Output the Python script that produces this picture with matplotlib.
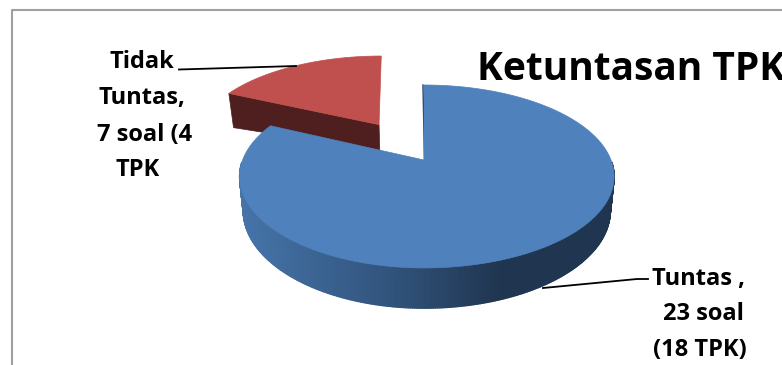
import numpy as np
import matplotlib
matplotlib.use('Agg')
import matplotlib.pyplot as plt
from matplotlib.collections import PolyCollection
from matplotlib.colors import LinearSegmentedColormap

title = 'Ketuntasan TPK'
tpk = [18, 4]
soal = [23, 7]
tuntas_lines = ['Tuntas ,', f'{soal[0]} soal', f'({tpk[0]} TPK)']
tidak_lines = ['Tidak', 'Tuntas,', f'{soal[1]} soal (4', 'TPK']

plt.rcParams['font.family'] = ['Open Sans', 'DejaVu Sans']

# pie geometry, in pixels
cx, cy = 424, 160
rx, ry = 187, 88.5
persp = 0.18
depth = 33
explode = (-0.267, 0.43)
red_scale = 1.06
red_lean = 0.03


def project(u, v, z=0.0):
    u = np.asarray(u, dtype=float)
    v = np.asarray(v, dtype=float)
    w = 1 + persp * v
    s = 1 - 0.02 * z
    # the left half of the disc is drawn a little narrower
    k = np.where(u < 0, 0.97, 1.0)
    return cx + rx * s * k * u / w, cy + (-ry * v + depth * z) / w


def arc(start, end, n=200, scale=1.0, off=(0, 0)):
    # angles are clockwise from the top of the disc
    t = np.radians(np.linspace(start, end, n))
    return scale * np.sin(t) + off[0], scale * np.cos(t) + off[1]


fig, ax = plt.subplots(figsize=(7.82, 3.65), dpi=100)
fig.subplots_adjust(0, 0, 1, 1)
ax.set_xlim(0, 782)
ax.set_ylim(365, 0)
ax.axis('off')

# chart frame (left and top only are in view)
ax.plot([11.5, 11.5, 782], [365, 10, 10], color='#a0a0a0', lw=1.5, zorder=1)

angle = 360 * tpk[0] / sum(tpk)

# red slice, pulled out of the pie
u, v = arc(angle, 360, scale=red_scale, off=explode)
ex, ey = explode
u = u - red_lean * (v - ey)
x0, y0 = project(u[0], v[0], 0)
x1, y1 = project(u[0], v[0], 1.2)
ax0, ay0 = project(ex, ey, 0)
ax1, ay1 = project(ex, ey, 0.85)
ax.fill([x0, ax0, ax1, x1], [y0, ay0, ay1, y1], color='#4f1f1f', lw=0.5, zorder=2)
xs, ys = project(u, v, 0)
ax.fill(np.r_[ax0, xs], np.r_[ay0, ys], color='#bf504d', lw=0.5, zorder=3)

# blue slice wall, front part only, shaded from left to right
shade = LinearSegmentedColormap.from_list(
    'wall', [(0, '#4674a9'), (0.42, '#30527a'), (0.7, '#20354f'), (1, '#1f3550')])
u, v = arc(0, angle, n=500)
xt, yt = project(u, v, 0)
xb, yb = project(u, v, 1)
quads = [[(xt[i], yt[i]), (xt[i + 1], yt[i + 1]), (xb[i + 1], yb[i + 1]), (xb[i], yb[i])]
         for i in range(len(u) - 1) if v[i] < -0.02 and v[i + 1] < -0.02]
keep = (v[:-1] < -0.02) & (v[1:] < -0.02)
cols = shade(np.clip((xt[:-1][keep] - 240) / 375, 0, 1))
ax.add_collection(PolyCollection(quads, facecolors=cols, edgecolors=cols, linewidths=1.0, zorder=4))

# dark sliver of the cut face next to the top edge
ax.plot([423, 424.5], [85, 160], color='#1f3550', lw=1.0, zorder=4)

xs, ys = project(u, v, 0)
ax.fill(np.r_[cx, xs], np.r_[cy, ys], color='#4f81bd', lw=0.5, zorder=5)

# leader lines
ax.plot([179, 296], [69.5, 66], color='black', lw=1.3, zorder=6)
ax.plot([543, 637, 648], [288, 279, 279], color='black', lw=1.3, zorder=6)

# labels
fs = 17
for txt, x, y in zip(tidak_lines, [141.5, 142, 145, 138], [62, 98, 135, 170]):
    ax.text(x, y, txt, fontsize=fs, fontweight='bold', ha='center', va='center', zorder=7)
for txt, x, y in zip(tuntas_lines, [699, 703, 700], [279, 314, 350]):
    ax.text(x, y, txt, fontsize=fs, fontweight='bold', ha='center', va='center', zorder=7)

ax.text(477, 69, title, fontsize=28, fontweight='bold', ha='left', va='center', zorder=7)

plt.savefig('out.png', dpi=100)
